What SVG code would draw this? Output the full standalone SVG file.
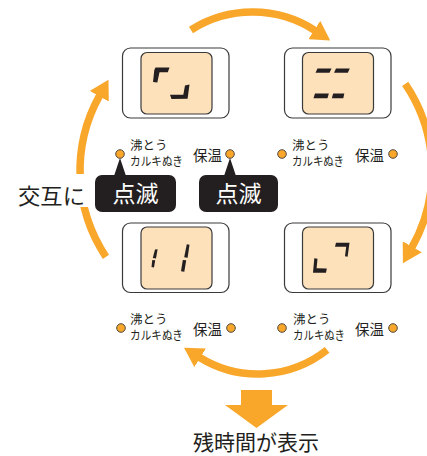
<svg xmlns="http://www.w3.org/2000/svg" width="427" height="456" viewBox="0 0 427 456">
<style>
.outer{fill:#fff;stroke:#3a3a3a;stroke-width:1.2}
.inner{fill:#fde1bb;stroke:#3a3a3a;stroke-width:1.2}
.seg{fill:#231f20}
.led{fill:#f9a72b;stroke:#3a3a3a;stroke-width:0.9}
.lbl{font-family:"Noto Sans CJK JP","Noto Sans",sans-serif;fill:#231f20}
.s1{font-size:12.5px}
.s2{font-size:12px}
.s3{font-size:14.5px}
.arc{fill:none;stroke:#f9a72b;stroke-width:7.5}
.box{fill:#231f20}
.btxt{font-family:"Noto Sans CJK JP","Noto Sans",sans-serif;font-size:23px;fill:#fff;text-anchor:middle}
.big{font-family:"Noto Sans CJK JP","Noto Sans",sans-serif;fill:#231f20}
</style>
<defs>
<marker id="ah" markerUnits="userSpaceOnUse" markerWidth="19" markerHeight="22" refX="1" refY="11" orient="auto" viewBox="0 0 19 22">
<path d="M0,0 L19,11 L0,22 z" fill="#f9a72b"/>
</marker>
</defs>

<g id="connectors">
<path class="arc" d="M191,30 A115,115 0 0 1 315.1,30.6" marker-end="url(#ah)"/>
<path class="arc" d="M405.2,83.9 A155,155 0 0 1 411.8,247.6" marker-end="url(#ah)"/>
<path class="arc" d="M327.1,349.9 A111.2,111.2 0 0 1 199.3,357.2" marker-end="url(#ah)"/>
<path class="arc" d="M105.9,256.8 A155,155 0 0 1 99.7,95.4" marker-end="url(#ah)"/>
</g>

<g id="panel-tl">
<rect class="outer" x="122.5" y="48" width="106.5" height="70" rx="8"/>
<rect class="inner" x="141" y="52.5" width="71" height="61.5" rx="6"/>
<polygon class="seg" points="155.5,67.5 169.5,67.5 167.8,72.3 159.5,72.3 157.3,82.5 153,82 154.3,70"/>
<polygon class="seg" points="185,85.5 189.5,84.5 187.6,98.8 171.5,99 170,94.8 183.3,94.8"/>
</g>

<g id="panel-tr">
<rect class="outer" x="284.5" y="48" width="106.5" height="70" rx="8"/>
<rect class="inner" x="302.5" y="52.5" width="71" height="61.5" rx="6"/>
<polygon class="seg" points="317.5,68.5 331.5,68.5 329.5,72.7 315.5,72.7"/>
<polygon class="seg" points="336,68.5 349.8,68.5 347.8,72.7 334,72.7"/>
<polygon class="seg" points="315,93.5 328.8,93.5 327.5,98.3 313.5,98.3"/>
<polygon class="seg" points="333.2,93.5 344.3,93.5 343.3,98.3 331.8,98.3"/>
</g>

<g id="panel-bl">
<rect class="outer" x="122.5" y="223" width="106.5" height="69.5" rx="8"/>
<rect class="inner" x="141" y="227" width="71" height="62" rx="6"/>
<polygon class="seg" points="155,249.5 157.6,249.3 156,258.5 152.8,258"/>
<polygon class="seg" points="152.3,260 155.2,260.3 154,267.5 151.5,267"/>
<polygon class="seg" points="186.8,244.3 189.5,244.8 187.6,257.8 184.2,257.3"/>
<polygon class="seg" points="182.8,260 186.2,260.3 184.3,271.8 181,271.3"/>
</g>

<g id="panel-br">
<rect class="outer" x="284.5" y="223" width="106.5" height="69.5" rx="8"/>
<rect class="inner" x="302.5" y="227" width="71" height="62" rx="6"/>
<polygon class="seg" points="336,242.7 349.5,242.7 347.6,256.8 345,256.3 346.2,246.8 335,246.8"/>
<polygon class="seg" points="314.3,258.3 317.5,258.8 316.6,268.3 326.8,268.5 326,272.8 313,272.8"/>
</g>

<g id="labels-tl">
<circle class="led" cx="120" cy="154" r="4.3"/>
<text class="lbl s1" x="130" y="149.5">沸とう</text>
<text class="lbl s2" x="130" y="166" textLength="53" lengthAdjust="spacingAndGlyphs">カルキぬき</text>
<text class="lbl s3" x="193" y="161">保温</text>
<circle class="led" cx="230" cy="154" r="4.3"/>
</g>

<g id="labels-tr">
<circle class="led" cx="282" cy="154" r="4.3"/>
<text class="lbl s1" x="292" y="149.5">沸とう</text>
<text class="lbl s2" x="292" y="166" textLength="52" lengthAdjust="spacingAndGlyphs">カルキぬき</text>
<text class="lbl s3" x="355" y="161">保温</text>
<circle class="led" cx="393" cy="154" r="4.3"/>
</g>

<g id="labels-bl">
<circle class="led" cx="121" cy="328" r="4.3"/>
<text class="lbl s1" x="130" y="323.5">沸とう</text>
<text class="lbl s2" x="130" y="340" textLength="53" lengthAdjust="spacingAndGlyphs">カルキぬき</text>
<text class="lbl s3" x="193" y="335">保温</text>
<circle class="led" cx="231" cy="328" r="4.3"/>
</g>

<g id="labels-br">
<circle class="led" cx="282" cy="328" r="4.3"/>
<text class="lbl s1" x="293" y="323.5">沸とう</text>
<text class="lbl s2" x="293" y="340" textLength="52" lengthAdjust="spacingAndGlyphs">カルキぬき</text>
<text class="lbl s3" x="355" y="335">保温</text>
<circle class="led" cx="393" cy="328" r="4.3"/>
</g>

<g id="alternate-label">
<rect x="14" y="174" width="74" height="33" fill="#fff"/>
<text class="big" x="18" y="203.5" font-size="22" textLength="67" lengthAdjust="spacingAndGlyphs">交互に</text>
</g>

<g id="callout-1">
<polygon class="box" points="120,158 114,176 126,176"/>
<rect class="box" x="95" y="175" width="81" height="37" rx="7"/>
<text class="btxt" x="135.5" y="202">点滅</text>
</g>

<g id="callout-2">
<polygon class="box" points="230,158 224,176 236,176"/>
<rect class="box" x="199" y="175" width="79" height="37" rx="7"/>
<text class="btxt" x="238.5" y="202">点滅</text>
</g>

<g id="result">
<polygon points="241,390 272,390 272,405 288,405 256.5,428 225,405 241,405" fill="#f9a72b"/>
<text class="big" x="256" y="450" font-size="21" text-anchor="middle">残時間が表示</text>
</g>
</svg>
